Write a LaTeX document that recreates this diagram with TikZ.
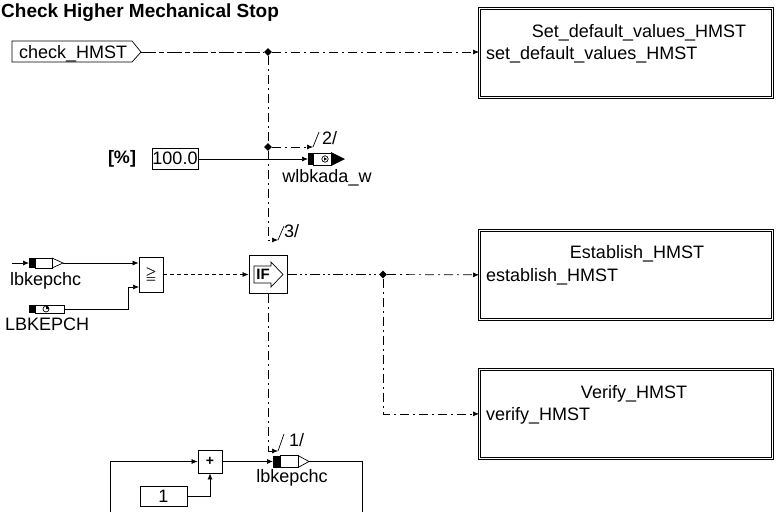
\documentclass[tikz,border=0pt]{standalone}
\usepackage{fontspec}
\setmainfont{Liberation Sans}
\usepackage{amssymb}
\usetikzlibrary{arrows.meta,shapes.geometric}

\begin{document}
\begin{tikzpicture}[x=1pt,y=-1pt,
  font=\fontsize{18}{20}\selectfont,
  wire/.style={line width=0.7pt},
  sig/.style={wire,-{Latex[length=6pt,width=5pt]}},
  dashdot/.style={dash pattern=on 9pt off 4pt on 2pt off 4pt},
  longdash/.style={dash pattern=on 15pt off 3pt on 5pt off 3pt},
  dotline/.style={dash pattern=on 4pt off 3pt},
  dashdotdot/.style={dash pattern=on 10pt off 3pt on 2pt off 3pt on 2pt off 3pt},
  junc/.style={diamond,fill,inner sep=0pt,minimum size=8pt},
  blk/.style={draw,line width=0.8pt,inner sep=0pt},
  subsys/.style={draw,double,double distance=1.2pt,line width=0.7pt,inner sep=0pt,
    minimum width=293pt,minimum height=89pt,anchor=north west},
  txt/.style={inner sep=0pt,anchor=base west},
]
\useasboundingbox (0,0) rectangle (776,512);

\node[txt,font=\fontsize{19}{21}\selectfont\bfseries] (title) at (1,17) {Check Higher Mechanical Stop};

% subsystems
\node[subsys] (setdef) at (479,8) {};
\node[subsys] (estab) at (479,230) {};
\node[subsys] (verify) at (479,369) {};
\node[inner sep=0pt,anchor=base] (setdefT) at (639,37) {Set\_default\_values\_HMST};
\node[inner sep=0pt,anchor=base] (estabT) at (637,258) {Establish\_HMST};
\node[inner sep=0pt,anchor=base] (verifyT) at (634,398) {Verify\_HMST};
\node[txt] (setdefP) at (486,59) {set\_default\_values\_HMST};
\node[txt] (estabP) at (486,281) {establish\_HMST};
\node[txt] (verifyP) at (486,420) {verify\_HMST};

% trigger input
\draw[wire] (12,41) -- (132,41) -- (141,52) -- (132,62) -- (12,62) -- cycle;
\node[txt] (chk) at (19,58) {check\_HMST};
\coordinate (chkO) at (141,52);

\node[junc] (J1) at (268,52) {};
\node[junc] (J2) at (268,147) {};
\node[junc] (J3) at (383,274.5) {};

\draw[wire,longdash] (chkO) -- (J1);
\draw[sig,dashdot] (J1) -- (J1 -| setdef.west);
\draw[wire,dashdot] (J1) -- (J2);

% 2/
\coordinate (mk2) at (313,147);
\draw[sig,dashdot] (J2) -- (mk2);
\draw[wire] (mk2) -- ++(6,-15);
\node[txt] (n2) at (322,144) {2/};

% 3/
\coordinate (mk3) at (278,240);
\draw[sig,dashdot] (J2) |- (mk3);
\draw[wire] (mk3) -- ++(6,-14);
\node[txt] (n3) at (284,237) {3/};

% constant 100.0 -> wlbkada_w
\node[font=\fontsize{18}{20}\selectfont\bfseries] (unit) at (122,158.5) {[\%]};
\node[blk,minimum width=46pt,minimum height=21pt] (c100) at (175,158.5) {100.0};
\fill (308,153) rectangle (313,165);
\draw[wire] (313,153) rectangle (331,165);
\draw[wire] (325,159) circle (3.2);
\fill (324,157.3) -- (327,159) -- (324,160.7) -- cycle;
\fill (331,152) -- (345,159) -- (331,166) -- cycle;
\coordinate (wlbIn) at (308,159);
\node[inner sep=0pt,anchor=base] (wlbL) at (327,182) {wlbkada\_w};
\draw[sig] (c100.east |- wlbIn) -- (wlbIn);

% lbkepchc in
\coordinate (lbSrc) at (12,263);
\fill (29,258) rectangle (35,268);
\draw[wire] (35,258) rectangle (52,268);
\draw[wire] (52,258) -- (63,263) -- (52,268);
\coordinate (lbIn) at (29,263);
\coordinate (lbOut) at (63,263);
\draw[sig] (lbSrc) -- (lbIn);
\node[txt] (lbL) at (10,285) {lbkepchc};

% LBKEPCH
\fill (29,305) rectangle (35,313);
\draw[wire] (35,305) rectangle (64,313);
\draw[wire] (46,309) circle (3);
\fill (46,309) -- (49,309) arc (0:-90:3) -- cycle;
\coordinate (lbkO) at (64,309);
\node[txt] (lbkL) at (5,330) {LBKEPCH};

% compare, if
\node[blk,minimum width=24pt,minimum height=35pt,font=\fontsize{14}{14}\selectfont] (cmp) at (151,274.5) {\rlap{$\geqq$}\kern0.5pt$\geqq$};
\coordinate (cmpIn2) at (139,287);
\draw[sig] (lbOut) -- (lbOut -| cmp.west);
\draw[sig] (lbkO) -- (128,309) -- (128,287) -- (cmpIn2);

\node[blk,minimum width=38pt,minimum height=38pt] (ifb) at (268,274.5) {};
\draw[wire] (254,266) -- (271,266) -- (271,262) -- (283,274.5) -- (271,287) -- (271,283) -- (254,283) -- cycle;
\node[font=\fontsize{15}{15}\selectfont\bfseries] (ifT) at (263,274.5) {IF};

\draw[sig,dotline] (cmp.east) -- (ifb.west);
\draw[wire,dashdotdot] (ifb.east) -- (J3);
\draw[sig,dashdot] (J3) -- (estab.west);
\draw[sig,dashdot] (J3) |- (verify.west);

% 1/
\coordinate (mk1) at (278,451);
\draw[sig,dashdot] (ifb.south) |- (mk1);
\draw[wire] (mk1) -- ++(6,-17);
\node[txt] (n1) at (289,446) {1/};

% counter loop
\node[blk,minimum width=24pt,minimum height=23pt,font=\fontsize{14}{14}\selectfont\bfseries] (plus) at (210,461.5) {+};
\node[blk,minimum width=47pt,minimum height=20pt] (c1) at (163.5,496) {1};
\fill (273,455.5) rectangle (280,467.5);
\draw[wire] (280,455.5) rectangle (298,467.5);
\draw[wire] (298,455.5) -- (309,461.5) -- (298,467.5);
\coordinate (lbOutIn) at (273,461.5);
\coordinate (lbOutO) at (309,461.5);
\coordinate (loopB) at (110,512);
\coordinate (loopE) at (362,512);
\node[inner sep=0pt,anchor=base] (lbL2) at (292,482) {lbkepchc};

\draw[sig] (plus.east) -- (lbOutIn);
\draw[wire] (lbOutO) -| (loopE);
\draw[sig] (loopB) |- (plus.west);
\draw[sig] (c1.east) -| (plus.south);

\end{tikzpicture}
\end{document}
